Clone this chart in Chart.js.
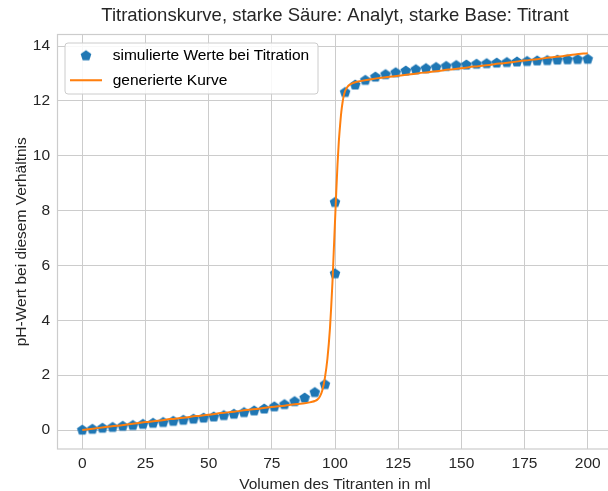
<!DOCTYPE html>
<html><head><meta charset="utf-8">
<script src="https://cdn.jsdelivr.net/npm/chart.js@4.4.1/dist/chart.umd.min.js"></script>
<style>
html,body{margin:0;padding:0;overflow:hidden;background:#fff;width:608px;height:491px}
#wrap{position:absolute;left:0;top:0;width:613px;height:491px}
</style>
</head><body>
<div id="wrap"><canvas id="c" width="613" height="491"></canvas></div>
<script>
const titleText = 'Titrationskurve, starke Säure: Analyt, starke Base: Titrant';
const xAxisLabel = 'Volumen des Titranten in ml';
const yAxisLabel = 'pH-Wert bei diesem Verhältnis';
const seriesNames = ['simulierte Werte bei Titration', 'generierte Kurve'];
const xTicks = [0, 25, 50, 75, 100, 125, 150, 175, 200];
const yTicks = [0, 2, 4, 6, 8, 10, 12, 14];

const simX = [0,4,8,12,16,20,24,28,32,36,40,44,48,52,56,60,64,68,72,76,80,84,88,92,96,
  100,100,
  104,108,112,116,120,124,128,132,136,140,144,148,152,156,160,164,168,172,176,180,184,188,192,196,200];
const simY = [0.00,0.03,0.07,0.10,0.14,0.17,0.21,0.25,0.28,0.32,0.36,0.40,0.44,0.48,0.53,0.58,0.64,0.70,0.77,0.85,0.93,1.04,1.17,1.37,1.66,
  5.70,8.30,
  12.31,12.58,12.75,12.87,12.96,13.03,13.09,13.14,13.18,13.22,13.26,13.29,13.31,13.34,13.36,13.38,13.40,13.42,13.44,13.46,13.47,13.49,13.50,13.51,13.52];

const curveX = [0,5,10,15,20,25,30,35,40,45,50,55,60,65,70,75,80,85,88,90,91,92,93,94,95,96,97,98,98.5,99,99.5,100,100.5,101,101.5,102,102.5,103,103.5,104,105,106,107,108,110,115,120,125,130,135,140,145,150,155,160,165,170,175,180,185,190,195,200];
const curveY = [0.00,0.06,0.12,0.17,0.23,0.29,0.34,0.40,0.45,0.51,0.56,0.62,0.67,0.73,0.78,0.84,0.89,0.95,0.98,1.01,1.03,1.06,1.11,1.22,1.45,1.90,2.60,3.70,4.50,5.40,6.50,7.60,8.70,9.70,10.50,11.10,11.60,11.95,12.20,12.36,12.52,12.60,12.65,12.68,12.72,12.80,12.86,12.92,12.97,13.03,13.08,13.14,13.19,13.25,13.30,13.36,13.41,13.47,13.52,13.58,13.63,13.69,13.74];

const BLUE = '#1f77b4', ORANGE = '#ff7f0e', GRID = '#cccccc', TEXT = '#262626';
const FONT = "'Liberation Sans', Arial, sans-serif";
const FS = 15.5;

function pentagon(w, h, cx, cy, r, color) {
  const c = document.createElement('canvas'); c.width = w; c.height = h;
  const g = c.getContext('2d'); g.fillStyle = color; g.beginPath();
  for (let k = 0; k < 5; k++) {
    const a = -Math.PI / 2 + k * 2 * Math.PI / 5;
    const px = cx + r * Math.cos(a), py = cy + r * Math.sin(a);
    if (k) g.lineTo(px, py); else g.moveTo(px, py);
  }
  g.closePath(); g.fill(); return c;
}
function lineImg(w, h, len, color) {
  const c = document.createElement('canvas'); c.width = w; c.height = h;
  const g = c.getContext('2d'); g.strokeStyle = color; g.lineWidth = 2;
  g.beginPath(); g.moveTo(0, h / 2); g.lineTo(len, h / 2); g.stroke(); return c;
}
const pentPoint = pentagon(14, 14, 7, 7, 5.6, BLUE);
const pentLegend = pentagon(35, 14, 16, 7, 5.6, BLUE);
const lineLegend = lineImg(35, 14, 32, ORANGE);

const frameBorder = {
  id: 'frameBorder',
  beforeDatasetsDraw(chart) {
    const {ctx, chartArea: a} = chart;
    ctx.save(); ctx.strokeStyle = GRID; ctx.lineWidth = 1.2;
    ctx.strokeRect(a.left + 0.5, a.top, a.right - a.left, a.bottom - a.top);
    ctx.restore();
  }
};
const legendBox = {
  id: 'legendBox',
  afterLayout(chart) {
    const lg = chart.legend, a = chart.chartArea;
    lg.left = a.left + 4; lg.top = a.top + 4.5;
    const tb = chart.titleBlock;
    if (tb) { tb.left = a.left; tb.right = a.right; tb.width = a.right - a.left; }
  },
  afterDatasetsDraw(chart) {
    const {ctx, chartArea: a} = chart;
    const x = a.left + 8, y = a.top + 8.5, w = 253, h = 51, r = 3;
    ctx.save();
    ctx.beginPath();
    ctx.moveTo(x + r, y); ctx.lineTo(x + w - r, y); ctx.arcTo(x + w, y, x + w, y + r, r);
    ctx.lineTo(x + w, y + h - r); ctx.arcTo(x + w, y + h, x + w - r, y + h, r);
    ctx.lineTo(x + r, y + h); ctx.arcTo(x, y + h, x, y + h - r, r);
    ctx.lineTo(x, y + r); ctx.arcTo(x, y, x + r, y, r); ctx.closePath();
    ctx.fillStyle = 'rgba(255,255,255,0.85)'; ctx.fill();
    ctx.strokeStyle = GRID; ctx.lineWidth = 1; ctx.stroke();
    ctx.restore();
    chart.legend.draw(chart.chartArea);
  }
};

new Chart(document.getElementById('c'), {
  type: 'scatter',
  data: {
    datasets: [
      {
        label: seriesNames[0],
        data: simX.map((x, i) => ({x: x, y: simY[i]})),
        pointStyle: pentPoint, pointRadius: 6, showLine: false,
        backgroundColor: BLUE, borderColor: BLUE, order: 1
      },
      {
        label: seriesNames[1],
        data: curveX.map((x, i) => ({x: x, y: curveY[i]})),
        showLine: true, pointRadius: 0, borderColor: ORANGE, backgroundColor: ORANGE,
        borderWidth: 2, cubicInterpolationMode: 'monotone', order: 0
      }
    ]
  },
  options: {
    responsive: false, animation: false, events: [], devicePixelRatio: 1,
    layout: {padding: 0, autoPadding: false},
    scales: {
      x: {
        type: 'linear', min: -10, max: 210,
        afterBuildTicks: s => { s.ticks = xTicks.map(v => ({value: v})); },
        afterFit: s => { s.height = 42; s.paddingLeft = 0; s.paddingRight = 0; },
        grid: {color: GRID, lineWidth: 1, drawTicks: false},
        border: {display: false},
        ticks: {color: TEXT, font: {family: FONT, size: FS}, padding: 5, maxRotation: 0},
        title: {display: true, text: xAxisLabel, color: TEXT, font: {family: FONT, size: FS}, padding: {top: 0, bottom: -3}}
      },
      y: {
        type: 'linear', min: -0.69, max: 14.42,
        afterBuildTicks: s => { s.ticks = yTicks.map(v => ({value: v})); },
        afterFit: s => { s.width = 57; s.paddingTop = 0; s.paddingBottom = 0; },
        grid: {color: GRID, lineWidth: 1, drawTicks: false},
        border: {display: false},
        ticks: {color: TEXT, font: {family: FONT, size: FS}, padding: 7},
        title: {display: true, text: yAxisLabel, color: TEXT, font: {family: FONT, size: FS}, padding: {top: 12, bottom: 0}}
      }
    },
    plugins: {
      tooltip: {enabled: false},
      title: {display: true, text: titleText, color: TEXT, font: {family: FONT, size: 18.5, weight: 'normal'}, padding: {top: 5, bottom: 7.3}},
      legend: {
        display: true, position: 'chartArea', align: 'start',
        labels: {
          usePointStyle: true, pointStyleWidth: 35, padding: 9, color: TEXT,
          font: {family: FONT, size: FS},
          generateLabels: () => [
            {text: seriesNames[0], pointStyle: pentLegend, fillStyle: BLUE, strokeStyle: BLUE, lineWidth: 0, hidden: false, datasetIndex: 0},
            {text: seriesNames[1], pointStyle: lineLegend, fillStyle: ORANGE, strokeStyle: ORANGE, lineWidth: 0, hidden: false, datasetIndex: 1}
          ]
        }
      }
    }
  },
  plugins: [frameBorder, legendBox]
});
</script>
</body></html>
